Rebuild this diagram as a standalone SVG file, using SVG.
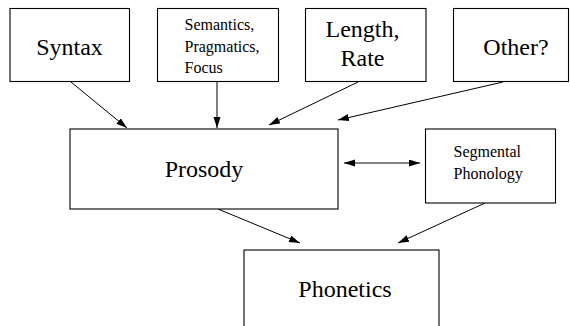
<svg xmlns="http://www.w3.org/2000/svg" width="570" height="326" viewBox="0 0 570 326">
<defs>
<style>
.box{fill:#fff;stroke:#000;stroke-width:1.1}
.t{font-family:"Liberation Serif","Times New Roman",serif;fill:#000}
.big{font-size:24px}
.sm{font-size:16px}
.c{stroke:#000;stroke-width:1;fill:none}
</style>
<marker id="ah" markerUnits="userSpaceOnUse" markerWidth="12" markerHeight="8" refX="11" refY="3.5" orient="auto-start-reverse">
<path d="M0,0 L11,3.5 L0,7 Z" fill="#000"/>
</marker>
</defs>
<rect width="570" height="326" fill="#fff"/>
<g id="connectors">
<line class="c" x1="71" y1="82" x2="127" y2="128" marker-end="url(#ah)"/>
<line class="c" x1="217" y1="82" x2="217" y2="128" marker-end="url(#ah)"/>
<line class="c" x1="358" y1="82" x2="269" y2="125" marker-end="url(#ah)"/>
<line class="c" x1="503" y1="82" x2="338" y2="120" marker-end="url(#ah)"/>
<line class="c" x1="344" y1="163" x2="420" y2="163" marker-start="url(#ah)" marker-end="url(#ah)"/>
<line class="c" x1="218" y1="209" x2="300" y2="243" marker-end="url(#ah)"/>
<line class="c" x1="485" y1="203" x2="398" y2="243" marker-end="url(#ah)"/>
</g>
<g id="syntax">
<rect class="box" x="10" y="8.5" width="119.5" height="73"/>
<text class="t big" x="69.5" y="55" text-anchor="middle">Syntax</text>
</g>
<g id="semantics">
<rect class="box" x="157.5" y="8.5" width="121" height="73"/>
<text class="t sm" x="184.5" y="30">Semantics,</text>
<text class="t sm" x="184.5" y="51.5">Pragmatics,</text>
<text class="t sm" x="184.5" y="72.5">Focus</text>
</g>
<g id="length">
<rect class="box" x="305.5" y="8.5" width="120.5" height="73"/>
<text class="t big" x="362.5" y="36.5" text-anchor="middle">Length,</text>
<text class="t big" x="362.5" y="66" text-anchor="middle">Rate</text>
</g>
<g id="other">
<rect class="box" x="453.5" y="8.5" width="115" height="73"/>
<text class="t big" x="516" y="55" text-anchor="middle">Other?</text>
</g>
<g id="prosody">
<rect class="box" x="70" y="129" width="268" height="80"/>
<text class="t big" x="204" y="176.5" text-anchor="middle">Prosody</text>
</g>
<g id="segmental">
<rect class="box" x="425.5" y="129" width="130" height="74"/>
<text class="t sm" x="453.5" y="156.5">Segmental</text>
<text class="t sm" x="453.5" y="178.5">Phonology</text>
</g>
<g id="phonetics">
<rect class="box" x="244" y="250" width="195" height="90"/>
<text class="t big" x="345" y="297" text-anchor="middle">Phonetics</text>
</g>
</svg>
